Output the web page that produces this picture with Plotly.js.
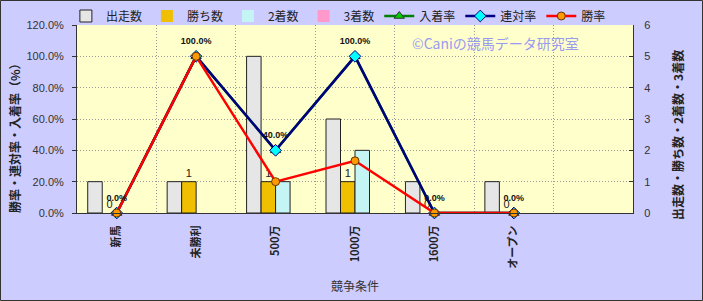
<!DOCTYPE html>
<html><head><meta charset="utf-8">
<script src="https://cdn.plot.ly/plotly-3.0.1.min.js"></script>
<style>body{margin:0;background:#fff}#chart{width:703px;height:301px}</style>
</head><body><div id="chart"></div>
<script>
const categories = ['新馬','未勝利','500万','1000万','1600万','オープン'];
const starts = [1,1,5,3,1,1];
const wins = [0,1,1,1,0,0];
const seconds = [0,0,1,2,0,0];
const thirds = [0,0,0,0,0,0];
const placeRate = [0,100,40,100,0,0];
const rentaiRate = [0,100,40,100,0,0];
const winRate = [0,100,20,33.3,0,0];
const leftTicks = [0,20,40,60,80,100,120];
const rightTicks = [0,1,2,3,4,5,6];

const FONT = 'Liberation Sans, Noto Sans CJK JP, sans-serif';
const JFONT = 'Noto Sans CJK JP, sans-serif';
const outlineFor = arr => ({color:'#222', width:arr.map(v => v > 0 ? 1 : 0)});

const traces = [
  {type:'bar', name:'出走数', x:categories, y:starts, yaxis:'y', marker:{color:'#e6e6e6', line:outlineFor(starts)}},
  {type:'bar', name:'勝ち数', x:categories, y:wins, yaxis:'y', marker:{color:'#f0c000', line:outlineFor(wins)},
   text:wins.map(String), textposition:'outside', textfont:{size:11, color:'#222', family:FONT}, cliponaxis:false},
  {type:'bar', name:'2着数', x:categories, y:seconds, yaxis:'y', marker:{color:'#c4f4f4', line:outlineFor(seconds)}},
  {type:'bar', name:'3着数', x:categories, y:thirds, yaxis:'y', marker:{color:'#ff99cc', line:outlineFor(thirds)}},
  {type:'scatter', mode:'lines+markers', name:'入着率', x:categories, y:placeRate, yaxis:'y2', cliponaxis:false,
   line:{color:'#008000', width:2.5}, marker:{symbol:'triangle-up', size:9, color:'#00cc00', line:{color:'#333', width:1}}},
  {type:'scatter', mode:'lines+markers', name:'連対率', x:categories, y:rentaiRate, yaxis:'y2', cliponaxis:false,
   line:{color:'#000080', width:2.5}, marker:{symbol:'diamond', size:9, color:'#00ffff', line:{color:'#000080', width:1}}},
  {type:'scatter', mode:'lines+markers', name:'勝率', x:categories, y:winRate, yaxis:'y2', cliponaxis:false,
   line:{color:'#ff0000', width:2.5}, marker:{symbol:'circle', size:8, color:'#ff9900', line:{color:'#663300', width:1}}},
  // data labels of 連対率 (transparent spacer markers lift the text above the point)
  {type:'scatter', mode:'markers+text', name:'連対率ラベル', showlegend:false, x:categories, y:rentaiRate, yaxis:'y2', cliponaxis:false,
   text:rentaiRate.map(v=>v.toFixed(1)+'%'), textposition:'top center',
   textfont:{size:9, weight:'bold', color:'#111', family:FONT},
   marker:{size:14, color:'rgba(0,0,0,0)'}}
];

const W=703, H=301, ml=77, mr=70, mt=25, mb=88;
const pw=W-ml-mr, ph=H-mt-mb;
const px = x => (x-ml)/pw, py = y => 1-(y-mt)/ph;

const layout = {
  width:W, height:H,
  margin:{l:ml, r:mr, t:mt, b:mb, pad:0, autoexpand:false},
  paper_bgcolor:'#ccccff', plot_bgcolor:'#ffffcc',
  font:{family:FONT, size:11, color:'#333'},
  barmode:'group', bargap:0.27, bargroupgap:0,
  showlegend:true,
  legend:{orientation:'h', x:-0.02, y:py(16), xanchor:'left', yanchor:'middle',
    bgcolor:'rgba(0,0,0,0)', font:{size:12, family:JFONT, color:'#222'}, traceorder:'normal', itemwidth:30},
  xaxis:{type:'category', range:[-0.5,6.5], tickson:'boundaries', showgrid:true, griddash:'1px,2px', gridcolor:'#999',
    showline:true, linecolor:'#333', linewidth:1, ticks:'', tickangle:-90, ticklabelstandoff:7, automargin:false,
    tickfont:{size:11, weight:'bold', family:JFONT, color:'#222'}, fixedrange:true},
  yaxis:{side:'right', range:[0,6], tickvals:rightTicks, showgrid:false, zeroline:false, showline:true, automargin:false,
    linecolor:'#333', ticks:'inside', ticklen:4, tickcolor:'#333', ticklabelstandoff:8,
    tickfont:{size:11, color:'#333'}},
  yaxis2:{overlaying:'y', side:'left', range:[0,120], tickvals:leftTicks, ticktext:leftTicks.map(v=>v.toFixed(1)+'%'),
    showgrid:true, griddash:'1px,2px', gridcolor:'#999', zeroline:false, showline:true, linecolor:'#333', automargin:false,
    ticks:'outside', ticklen:4, tickcolor:'#333', ticklabelstandoff:6, tickfont:{size:11, color:'#333'}},
  annotations:[
    {xref:'paper', yref:'paper', x:px(14), y:py(135), xanchor:'center', yanchor:'middle', text:'勝率・連対率・入着率（%）', textangle:-90, showarrow:false,
     font:{size:12, weight:'bold', family:JFONT, color:'#222'}},
    {xref:'paper', yref:'paper', x:px(677), y:py(135), xanchor:'center', yanchor:'middle', text:'出走数・勝ち数・2着数・3着数', textangle:-90, showarrow:false,
     font:{size:12, weight:'bold', family:JFONT, color:'#222'}},
    {xref:'paper', yref:'paper', x:px(355), y:py(285), xanchor:'center', yanchor:'middle', text:'競争条件', showarrow:false,
     font:{size:12, family:JFONT, color:'#333'}},
    {xref:'paper', yref:'paper', x:px(495), y:py(43), xanchor:'center', yanchor:'middle', text:'©Caniの競馬データ研究室', showarrow:false,
     font:{size:14, family:JFONT, color:'#9a9aee'}}
  ],
  shapes:[
    {type:'rect', xref:'paper', yref:'paper', x0:-(ml-0.5)/pw, x1:1+(mr-0.5)/pw, y0:-(mb-0.5)/ph, y1:1+(mt-0.5)/ph,
     line:{color:'#333', width:1}, fillcolor:'rgba(0,0,0,0)'}
  ]
};

Plotly.newPlot('chart', traces, layout, {displayModeBar:false, staticPlot:true});
</script></body></html>
